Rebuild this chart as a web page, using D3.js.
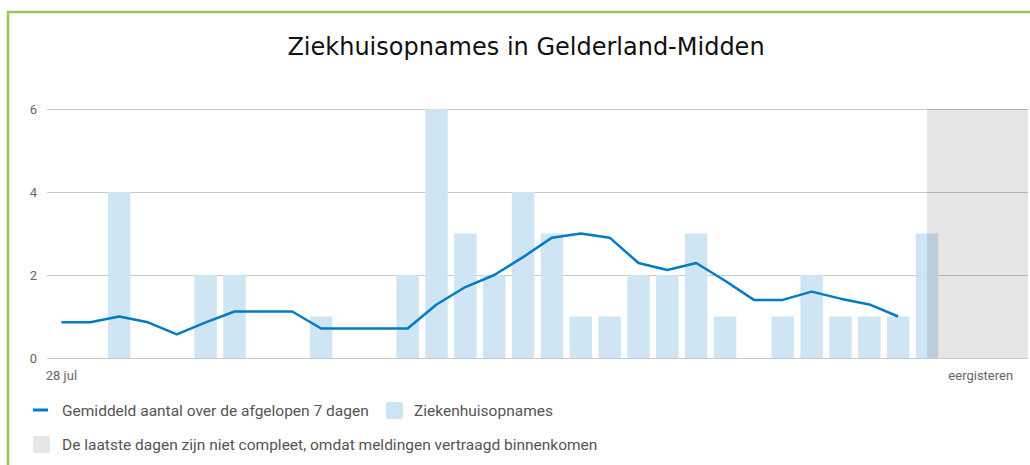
<!DOCTYPE html>
<html>
<head>
<meta charset="utf-8">
<script src="https://cdn.jsdelivr.net/npm/d3@7"></script>
<style>
  html, body { margin: 0; padding: 0; background: #fff; }
  svg { display: block; }
</style>
</head>
<body>
<div id="chart"></div>
<script>
// one entry per day, 28 jul .. 30 aug
const dates = [
  '2020-07-28', '2020-07-29', '2020-07-30', '2020-07-31', '2020-08-01', '2020-08-02', '2020-08-03',
  '2020-08-04', '2020-08-05', '2020-08-06', '2020-08-07', '2020-08-08', '2020-08-09', '2020-08-10',
  '2020-08-11', '2020-08-12', '2020-08-13', '2020-08-14', '2020-08-15', '2020-08-16', '2020-08-17',
  '2020-08-18', '2020-08-19', '2020-08-20', '2020-08-21', '2020-08-22', '2020-08-23', '2020-08-24',
  '2020-08-25', '2020-08-26', '2020-08-27', '2020-08-28', '2020-08-29', '2020-08-30',
];
// daily admissions (bars)
const admissions = [0, 0, 4, 0, 0, 2, 2, 0, 0, 1, 0, 0, 2, 6, 3, 2, 4, 3, 1, 1, 2, 2, 3, 1, 0, 1, 2, 1, 1, 1, 3];
// 7-day average (line)
const average7 = [0.86, 0.86, 1.0, 0.86, 0.57, 0.86, 1.12, 1.12, 1.12, 0.71, 0.71, 0.71, 0.71, 1.29, 1.71,
  2.0, 2.43, 2.9, 3.0, 2.9, 2.29, 2.12, 2.29, 1.86, 1.4, 1.4, 1.6, 1.43, 1.29, 1.0];
const yTicks = [0, 2, 4, 6];
const xTickDates = ['2020-07-28', '2020-08-29'];
const xTickLabels = ['28 jul', 'eergisteren'];
const incompleteFrom = '2020-08-27';

const title = 'Ziekhuisopnames in Gelderland-Midden';
const legendLine = 'Gemiddeld aantal over de afgelopen 7 dagen';
const legendBar = 'Ziekenhuisopnames';
const legendIncomplete = 'De laatste dagen zijn niet compleet, omdat meldingen vertraagd binnenkomen';

const width = 1030;
const height = 465;
const margin = { top: 109, right: 2, bottom: 107, left: 47 };
const innerWidth = width - margin.left - margin.right;
const innerHeight = height - margin.top - margin.bottom;

const blue = '#007bc7';
const barFill = '#cde4f3';
const textFont = 'Roboto, "Noto Sans", sans-serif';

const svg = d3.select('#chart').append('svg').attr('width', width).attr('height', height);

// green frame (top + left edge)
svg.append('path')
  .attr('d', `M8,${height} V12 H${width}`)
  .attr('fill', 'none')
  .attr('stroke', '#9cc45a')
  .attr('stroke-width', 2.5);

svg.append('text')
  .attr('x', 526)
  .attr('y', 55)
  .attr('text-anchor', 'middle')
  .attr('font-family', '"DejaVu Sans", Verdana, sans-serif')
  .attr('font-size', 24)
  .attr('fill', '#111')
  .text(title);

const g = svg.append('g').attr('transform', `translate(${margin.left},${margin.top})`);

const x = d3.scaleBand().domain(dates).range([0, innerWidth]).paddingInner(0.22).paddingOuter(0.11);
const y = d3.scaleLinear().domain([0, 6]).range([innerHeight, 0]);

// gridlines + y labels
const yAxis = g.append('g')
  .call(d3.axisLeft(y).tickValues(yTicks).tickFormat(d3.format('d')).tickSize(-innerWidth).tickPadding(10));
yAxis.select('.domain').remove();
yAxis.selectAll('.tick line').attr('stroke', '#c8c8c8');
yAxis.selectAll('.tick text')
  .attr('fill', '#666')
  .attr('font-family', textFont)
  .attr('font-size', 13);

// bars
g.append('g').selectAll('rect')
  .data(admissions.map((value, i) => ({ date: dates[i], value })))
  .join('rect')
  .attr('x', (d) => x(d.date))
  .attr('width', x.bandwidth())
  .attr('y', (d) => y(d.value))
  .attr('height', (d) => y(0) - y(d.value))
  .attr('fill', barFill)
  .attr('opacity', 0.95);

// 7-day average line
const line = d3.line()
  .x((d) => x(d.date) + x.bandwidth() / 2)
  .y((d) => y(d.value));
g.append('path')
  .datum(average7.map((value, i) => ({ date: dates[i], value })))
  .attr('d', line)
  .attr('fill', 'none')
  .attr('stroke', blue)
  .attr('stroke-width', 2.5)
  .attr('stroke-linejoin', 'round');

// incomplete period
const greyStart = x(incompleteFrom) + x.bandwidth() / 2;
g.append('rect')
  .attr('x', greyStart)
  .attr('y', 0)
  .attr('width', innerWidth - greyStart)
  .attr('height', innerHeight)
  .attr('fill', '#000')
  .attr('fill-opacity', 0.1);

// x labels
const xAxis = g.append('g')
  .attr('transform', `translate(0,${innerHeight})`)
  .call(d3.axisBottom(x).tickValues(xTickDates).tickSize(0).tickPadding(13)
    .tickFormat((d) => xTickLabels[xTickDates.indexOf(d)]));
xAxis.select('.domain').remove();
xAxis.selectAll('.tick text')
  .attr('fill', '#666')
  .attr('font-family', textFont)
  .attr('font-size', 13);
xAxis.selectAll('.tick').filter((d) => d === xTickDates[1]).select('text').attr('dx', -4);

// legend
const legend = svg.append('g').attr('font-family', textFont).attr('font-size', 15.5).attr('fill', '#555');
legend.append('line')
  .attr('x1', 33).attr('x2', 48).attr('y1', 410).attr('y2', 410)
  .attr('stroke', blue).attr('stroke-width', 3);
legend.append('text').attr('x', 62).attr('y', 415.5).text(legendLine);
legend.append('rect')
  .attr('x', 386).attr('y', 402).attr('width', 17).attr('height', 17).attr('rx', 2)
  .attr('fill', barFill);
legend.append('text').attr('x', 414).attr('y', 415.5).text(legendBar);
legend.append('rect')
  .attr('x', 33).attr('y', 436).attr('width', 17).attr('height', 17).attr('rx', 2)
  .attr('fill', '#e6e6e6');
legend.append('text').attr('x', 62).attr('y', 449.5).text(legendIncomplete);
</script>
</body>
</html>
